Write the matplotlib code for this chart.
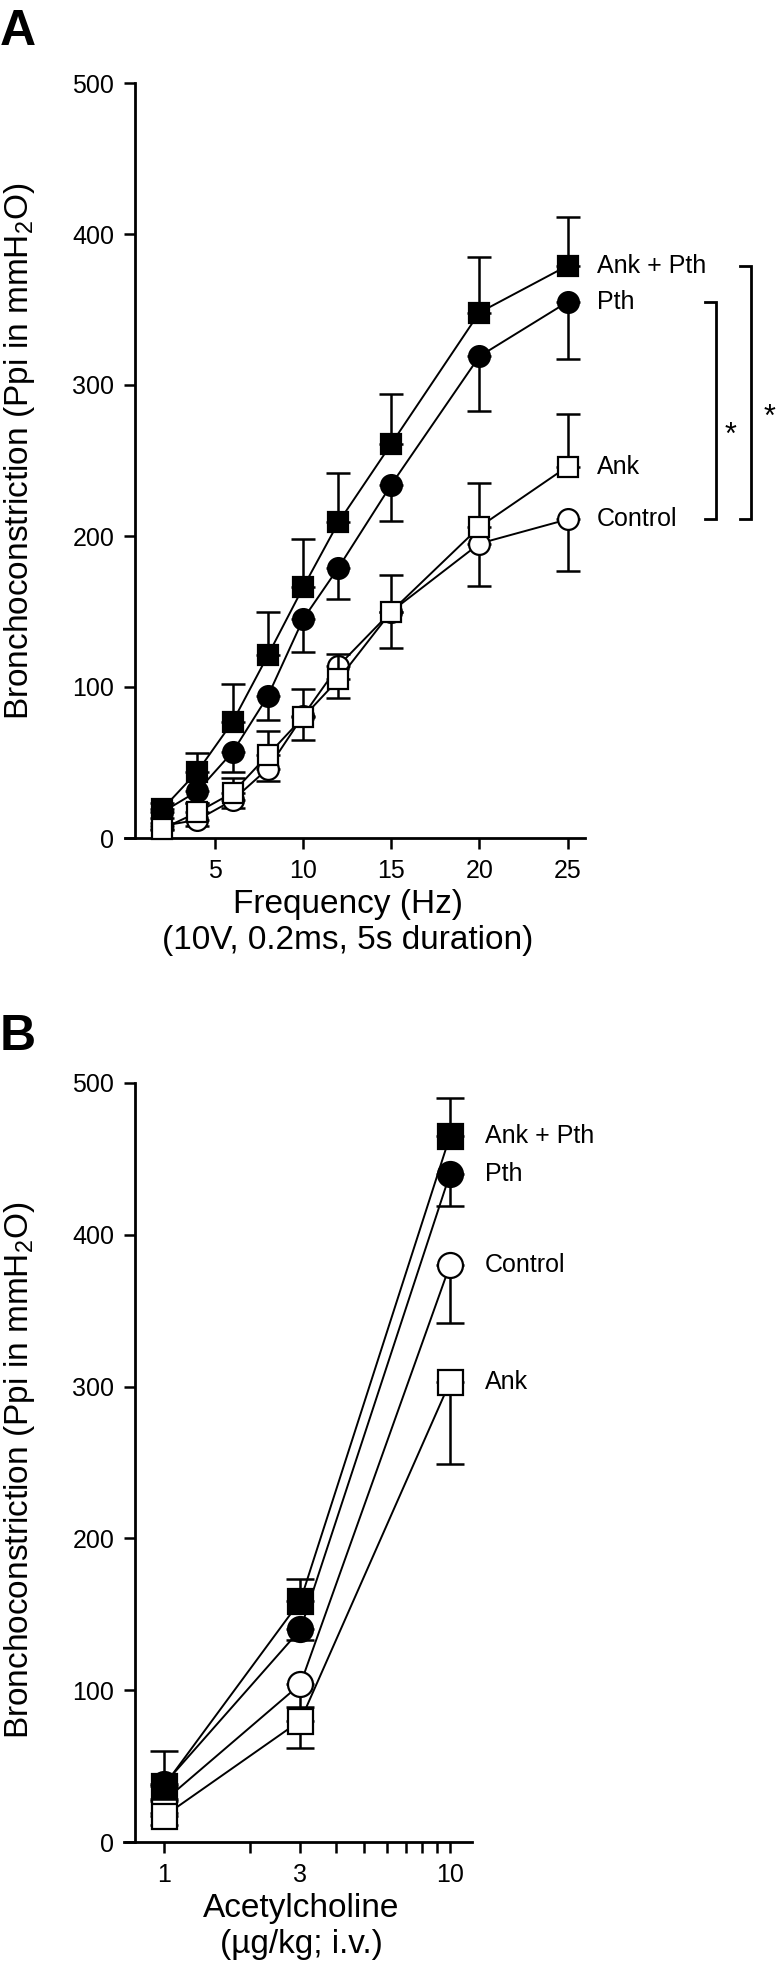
import matplotlib
matplotlib.use("Agg")
import matplotlib.pyplot as plt
import matplotlib.transforms as mtransforms
from matplotlib.ticker import FixedLocator, FixedFormatter, NullFormatter

plt.rcParams['font.family'] = ['Liberation Sans', 'DejaVu Sans']
plt.rcParams['mathtext.fontset'] = 'custom'
plt.rcParams['mathtext.rm'] = 'Liberation Sans'

# panel A: frequency response
freq_hz = [2, 4, 6, 8, 10, 12, 15, 20, 25]
control_a = [8, 12, 25, 46, 81, 114, 150, 195, 211]
control_a_err = [3, 4, 5, 8, 16, 21, 24, 28, 34]
ank_a = [6, 17, 30, 55, 80, 105, 150, 206, 246]
ank_a_err = [4, 6, 10, 16, 19, 17, 24, 29, 35]
pth_a = [17, 31, 57, 94, 145, 179, 234, 319, 355]
pth_a_err = [4, 8, 13, 16, 22, 21, 24, 36, 38]
ankpth_a = [19, 44, 77, 121, 166, 209, 261, 348, 379]
ankpth_a_err = [4, 12, 25, 29, 32, 33, 33, 37, 32]
freq_ticks = [5, 10, 15, 20, 25]

# panel B: acetylcholine dose response
dose = [1, 3, 10]
control_b = [27, 104, 380]
control_b_err = [8, 15, 38]
ank_b = [17, 80, 303]
ank_b_err = [6, 18, 54]
pth_b = [38, 140, 440]
pth_b_err = [10, 7, 21]
ankpth_b = [37, 159, 465]
ankpth_b_err = [23, 14, 25]
dose_ticks = [1, 3, 10]
dose_minor = [2, 4, 5, 6, 7, 8, 9]

y_ticks = [0, 100, 200, 300, 400, 500]
y_label = "Bronchoconstriction (Ppi in mmH$_2$O)"

W, H = 780, 1973


def px_box(left, right, top, bottom):
    return [left / W, 1 - bottom / H, (right - left) / W, (bottom - top) / H]


def style_axes(ax):
    for s in ['top', 'right']:
        ax.spines[s].set_visible(False)
    for s in ['left', 'bottom']:
        ax.spines[s].set_linewidth(2)
    ax.tick_params(axis='both', which='both', direction='out', length=8,
                   width=1.8, labelsize=18, pad=7)
    ax.set_ylim(0, 500)
    ax.set_yticks(y_ticks)


def draw_series(ax, x, y, err, side, filled, marker, ms, cap, z):
    zeros = [0] * len(err)
    lower = err if side == 'down' else zeros
    upper = err if side == 'up' else zeros
    ax.errorbar(x, y, yerr=[lower, upper], fmt='none', ecolor='black',
                elinewidth=1.8, capsize=cap, capthick=1.8, zorder=z, clip_on=False)
    ax.plot(x, y, color='black', lw=1.4, marker=marker, ms=ms,
            mfc='black' if filled else 'white', mec='black', mew=1.6,
            zorder=z + 1, clip_on=False)


def label_ends(ax, names, xs, ys, dx):
    for name, x, y in zip(names, xs, ys):
        ax.annotate(name, xy=(x, y), xytext=(dx, 0), textcoords='offset points',
                    ha='left', va='center', fontsize=18, annotation_clip=False)


fig = plt.figure(figsize=(W / 100, H / 100), dpi=100)

# ---- A ----
axA = fig.add_axes(px_box(125, 585, 83, 838))
style_axes(axA)
axA.set_xlim(-0.108, 25.99)
axA.spines['left'].set_position(('data', 0.459))
axA.set_xticks(freq_ticks)
draw_series(axA, freq_hz, control_a, control_a_err, 'down', False, 'o', 15, 8.5, 2)
draw_series(axA, freq_hz, pth_a, pth_a_err, 'down', True, 'o', 15, 8.5, 4)
draw_series(axA, freq_hz, ankpth_a, ankpth_a_err, 'up', True, 's', 15, 8.5, 6)
draw_series(axA, freq_hz, ank_a, ank_a_err, 'up', False, 's', 15, 8.5, 8)
label_ends(axA, ['Ank + Pth', 'Pth', 'Ank', 'Control'],
           [freq_hz[-1]] * 4, [ankpth_a[-1], pth_a[-1], ank_a[-1], control_a[-1]], 21)
axA.set_xlabel("Frequency (Hz)\n(10V, 0.2ms, 5s duration)", fontsize=24)
axA.xaxis.set_label_coords(0.485, -0.0675)

# significance brackets
trans = mtransforms.blended_transform_factory(axA.transAxes, axA.transData)
for top, bottom, xv, xt, xs in [(pth_a[-1], control_a[-1], 1.285, 1.261, 1.317),
                                (ankpth_a[-1], control_a[-1], 1.361, 1.337, 1.40)]:
    axA.plot([xt, xv, xv, xt], [top, top, bottom, bottom], color='black', lw=2,
             transform=trans, clip_on=False, solid_joinstyle='miter')
    axA.annotate('*', xy=(xs, (top + bottom) / 2), xycoords=trans, xytext=(0, -18),
                 textcoords='offset points', ha='center', va='center', fontsize=22,
                 annotation_clip=False)

# ---- B ----
axB = fig.add_axes(px_box(124, 472, 1083, 1842))
style_axes(axB)
axB.set_xscale('log')
axB.set_xlim(0.7247, 11.94)
axB.spines['left'].set_position(('data', 0.7917))
axB.xaxis.set_major_locator(FixedLocator(dose_ticks))
axB.xaxis.set_major_formatter(FixedFormatter([str(d) for d in dose_ticks]))
axB.xaxis.set_minor_locator(FixedLocator(dose_minor))
axB.xaxis.set_minor_formatter(NullFormatter())
draw_series(axB, dose, control_b, control_b_err, 'down', False, 'o', 18, 9.8, 2)
draw_series(axB, dose, ankpth_b, ankpth_b_err, 'up', True, 's', 18, 9.8, 4)
draw_series(axB, dose, pth_b, pth_b_err, 'down', True, 'o', 18, 9.8, 6)
draw_series(axB, dose, ank_b, ank_b_err, 'down', False, 's', 18, 9.8, 8)
label_ends(axB, ['Ank + Pth', 'Pth', 'Control', 'Ank'],
           [dose[-1]] * 4, [ankpth_b[-1], pth_b[-1], control_b[-1], ank_b[-1]], 25)
axB.set_xlabel("Acetylcholine\n(\u00b5g/kg; i.v.)", fontsize=24)
axB.xaxis.set_label_coords(0.5086, -0.0672)

# y labels and panel letters
fig.text(20 / W, 1 - 451 / H, y_label, rotation=90, ha='center', va='center', fontsize=24)
fig.text(20 / W, 1 - 1470 / H, y_label, rotation=90, ha='center', va='center', fontsize=24)
fig.text(0, 1 - 45 / H, 'A', fontsize=36, fontweight='bold', ha='left', va='baseline')
fig.text(0, 1 - 1050 / H, 'B', fontsize=36, fontweight='bold', ha='left', va='baseline')

fig.savefig('out.png', dpi=100)
